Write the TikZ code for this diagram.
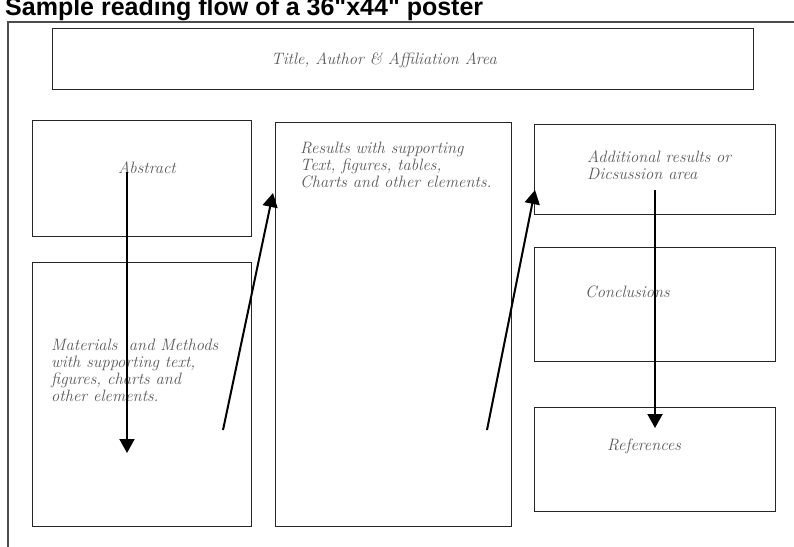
\documentclass[tikz,border=0pt]{standalone}
\usepackage{fontspec}
\newfontfamily\headfont{Liberation Sans}
\usetikzlibrary{positioning, arrows.meta}

\begin{document}
\begin{tikzpicture}[x=1pt, y=-1pt]
\tikzset{
  panel/.style = {rectangle, draw=black!85, line width=1pt, inner sep=0pt, anchor=north west},
  note/.style = {text=black!65, font=\fontsize{16.5}{16.8}\selectfont\itshape, align=left, inner sep=0pt},
  flow/.style = {draw, line width=2pt, -{Triangle[width=15pt,length=14pt]}}
}
\useasboundingbox (0,0) rectangle (794,546);
\node [anchor=base west, inner sep=0pt, font=\headfont\bfseries\fontsize{25}{25}\selectfont] (heading) at (5,15) {Sample reading flow of a 36"x44" poster};
\draw [line width=1.5pt, black!70] (8,560) -- (8,22) -- (810,22);
% panels
\node [panel, minimum width=701pt, minimum height=61pt] (titlebox) at (52,28) {};
\node [panel, minimum width=219pt, minimum height=116pt] (abstract) at (32,120) {};
\node [panel, minimum width=219pt, minimum height=264pt] (methods) at (32,262) {};
\node [panel, minimum width=236pt, minimum height=404pt] (results) at (275,122) {};
\node [panel, minimum width=241pt, minimum height=90pt] (additional) at (534,124) {};
\node [panel, minimum width=241pt, minimum height=114pt, below=32pt of additional] (conclusions) {};
\node [panel, minimum width=241pt, minimum height=104pt, below=45pt of conclusions] (references) {};
% texts
\node [note] (titletext) at (384,60) {Title, Author \& Affiliation Area};
\node [note, anchor=west] (abstracttext) at (118,168) {Abstract};
\node [note, anchor=north west] (methodstext) at (51,339) {Materials\ \ and Methods\\with supporting text,\\figures, charts and\\other elements.};
\node [note, anchor=north west] (resultstext) at (300,142) {Results with supporting\\Text, figures, tables,\\Charts and other elements.};
\node [note, anchor=north west] (additionaltext) at (587,151) {Additional results or\\Dicsussion area};
\node [note, anchor=west] (conclusionstext) at (585,292) {Conclusions};
\node [note, anchor=west] (referencestext) at (607,446) {References};
% reading flow
\coordinate (abstract-out) at (127,172);
\coordinate (methods-in) at (127,453);
\coordinate (methods-out) at (223,430);
\coordinate (results-in) at (273,193);
\coordinate (results-out) at (487,430);
\coordinate (additional-in) at (535,190);
\coordinate (additional-out) at (655,190);
\coordinate (references-in) at (655,428);
\path [flow] (abstract-out) -- (methods-in);
\path [flow] (methods-out) -- (results-in);
\path [flow] (results-out) -- (additional-in);
\path [flow] (additional-out) -- (references-in);
\end{tikzpicture}
\end{document}
